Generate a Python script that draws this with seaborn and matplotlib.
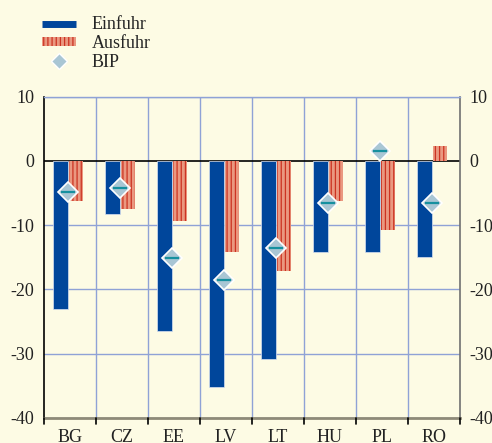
import numpy as np
import pandas as pd
import seaborn as sns
import matplotlib.pyplot as plt
from matplotlib.lines import Line2D
from matplotlib.patches import Patch

laender = ['BG', 'CZ', 'EE', 'LV', 'LT', 'HU', 'PL', 'RO']
einfuhr = [-23.1, -8.2, -26.4, -35.2, -30.8, -14.2, -14.2, -14.9]
ausfuhr = [-6.3, -7.5, -9.3, -14.2, -17.2, -6.3, -10.7, 2.3]
bip = [-4.9, -4.2, -15.1, -18.5, -13.6, -6.6, 1.5, -6.6]
y_ticks = [-40, -30, -20, -10, 0, 10]

bg = '#fdfbe4'
blau = '#00469b'
lachs = '#ea9880'
rot = '#cc3322'
gitter = '#8fa2d6'


def main():
    sns.set_theme(style='white')
    plt.rcParams['font.family'] = ['Liberation Serif', 'DejaVu Serif']
    plt.rcParams['hatch.linewidth'] = 0.9

    df = pd.DataFrame({
        'land': laender * 2,
        'wert': einfuhr + ausfuhr,
        'serie': ['Einfuhr'] * 8 + ['Ausfuhr'] * 8,
    })

    fig = plt.figure(figsize=(4.92, 4.43), dpi=100)
    fig.patch.set_facecolor(bg)
    ax = fig.add_axes([44 / 492, 1 - 418 / 443, 416 / 492, 321.5 / 443])
    ax.set_facecolor(bg)

    # gitter zuerst
    for y in y_ticks:
        if y != 0:
            ax.axhline(y, color=gitter, lw=1, zorder=0)
    for x in np.arange(0.5, 7.5, 1):
        ax.axvline(x, color=gitter, lw=1, zorder=0)
    ax.axhline(0, color='black', lw=1.2, zorder=1)

    sns.barplot(data=df, x='land', y='wert', hue='serie', order=laender,
                hue_order=['Einfuhr', 'Ausfuhr'], saturation=1,
                palette=[blau, lachs], width=0.6, gap=0.07,
                legend=False, ax=ax, zorder=2, err_kws={'linewidth': 0})

    n = len(laender)
    for i, p in enumerate(ax.patches):
        p.set_x(p.get_x() - 0.03)
        if i < n:
            p.set_edgecolor('#d8e0f0')
            p.set_linewidth(0.5)
        else:
            p.set_edgecolor(rot)
            p.set_hatch('||||')
            p.set_linewidth(0)

    pos = np.arange(n) - 0.035
    ax.plot(pos, bip, ls='none', marker='D', ms=10, mfc='#a9c6d4',
            mec='white', mew=1.2, zorder=4)
    ax.plot(pos, bip, ls='none', marker='_', ms=10, mec='#16909f',
            mew=1.6, zorder=5)

    ax.set_xlim(-0.5, 7.5)
    ax.set_ylim(-40, 10)
    ax.set_yticks(y_ticks)
    ax.set_yticklabels([str(v) for v in y_ticks])
    ax.set_xticks(range(n))
    ax.set_xticklabels(laender)
    ax.set_xlabel('')
    ax.set_ylabel('')
    ax.tick_params(axis='x', length=0, pad=8, labelsize=13, colors='#222222')
    ax.tick_params(axis='y', length=0, pad=7, labelsize=13, colors='#222222',
                   right=True, labelright=True)

    ax.spines['left'].set_color('black')
    ax.spines['left'].set_linewidth(1.2)
    ax.spines['right'].set_color('#707070')
    ax.spines['right'].set_linewidth(1.2)
    ax.spines['top'].set_color(gitter)
    ax.spines['top'].set_linewidth(1)
    ax.spines['bottom'].set_color('#8e8a78')
    ax.spines['bottom'].set_linewidth(2)

    # kleine striche unter der achse
    for x in np.arange(-0.5, 8, 1):
        ax.plot([x, x], [-40, -40.9], color='black', lw=1.2,
                clip_on=False, zorder=6)

    handles = [
        Line2D([0], [0], color=blau, lw=5, solid_capstyle='butt'),
        Patch(facecolor=lachs, edgecolor=rot, hatch='||||', lw=0),
        Line2D([0], [0], ls='none', marker='D', ms=8, mfc='#a9c6d4',
               mec='white', mew=1),
    ]
    fig.legend(handles, ['Einfuhr', 'Ausfuhr', 'BIP'], loc='upper left',
               bbox_to_anchor=(0.052, 1.0), frameon=False, fontsize=13,
               handlelength=1.9, handleheight=0.35, labelspacing=0.1,
               handletextpad=0.85)

    fig.savefig('out.png', dpi=100, facecolor=bg)


if __name__ == '__main__':
    main()
